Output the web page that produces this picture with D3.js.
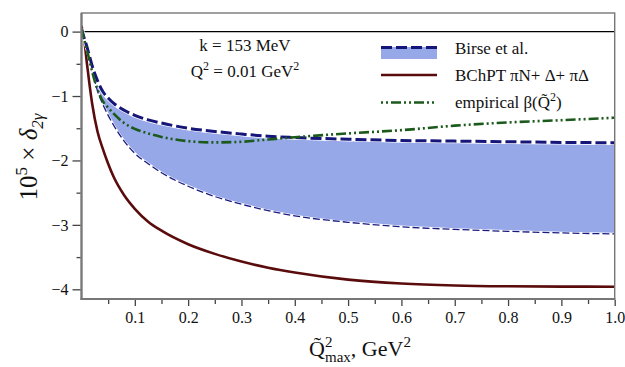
<!DOCTYPE html>
<html><head><meta charset="utf-8">
<script src="https://cdn.jsdelivr.net/npm/d3@7"></script>
<style>
body{margin:0;background:#fff;}
svg text{font-family:"Liberation Serif","Times New Roman",Times,serif !important;}
</style></head><body>
<svg id="c" width="625" height="367"></svg>
<script>
// ---- data ----
const qmax   = [0, 0.005, 0.01, 0.015, 0.02, 0.03, 0.04, 0.05, 0.06, 0.08, 0.1, 0.125, 0.15, 0.2, 0.25, 0.3, 0.35, 0.4, 0.5, 0.6, 0.7, 0.8, 0.9, 1.0];
const birseUpper = [0.05, -0.1, -0.23, -0.38, -0.53, -0.76, -0.93, -1.03, -1.11, -1.22, -1.30, -1.37, -1.42, -1.50, -1.55, -1.59, -1.625, -1.645, -1.67, -1.69, -1.70, -1.71, -1.72, -1.725];
const birseLower = [0.05, -0.15, -0.30, -0.45, -0.60, -0.92, -1.13, -1.30, -1.45, -1.70, -1.89, -2.05, -2.19, -2.40, -2.56, -2.68, -2.78, -2.86, -2.96, -3.03, -3.07, -3.10, -3.125, -3.14];
const bchpt      = [0.09, -0.12, -0.48, -0.82, -1.12, -1.55, -1.82, -2.05, -2.25, -2.54, -2.75, -2.95, -3.09, -3.30, -3.45, -3.57, -3.665, -3.74, -3.85, -3.91, -3.94, -3.953, -3.958, -3.96];
const empirical  = [0.05, -0.12, -0.28, -0.45, -0.62, -0.90, -1.08, -1.18, -1.27, -1.42, -1.51, -1.58, -1.635, -1.70, -1.72, -1.71, -1.675, -1.64, -1.58, -1.53, -1.46, -1.41, -1.375, -1.337];
const xMajor = [0.1,0.2,0.3,0.4,0.5,0.6,0.7,0.8,0.9,1.0];
const xMinor = [0.05,0.15,0.25,0.35,0.45,0.55,0.65,0.75,0.85,0.95];
const yMajor = [0,-1,-2,-3,-4];
const yMinor = [-0.5,-1.5,-2.5,-3.5];
const legendLabels = ["Birse et al.", "BChPT \u03c0N+ \u0394+ \u03c0\u0394", "empirical"];

// ---- layout ----
const svg = d3.select("#c");
const L=81.5, R=614.7, T=13, B=299;
const x = d3.scaleLinear().domain([0,1]).range([L,R]);
const y = d3.scaleLinear().domain([-4,0]).range([289.3,31.6]);

const pts = arr => qmax.map((q,i)=>[q,arr[i]]);
const line = d3.line().x(d=>x(d[0])).y(d=>y(d[1])).curve(d3.curveMonotoneX);
const area = d3.area().x((d,i)=>x(qmax[i])).y0((d,i)=>y(birseLower[i])).y1((d,i)=>y(birseUpper[i])).curve(d3.curveMonotoneX);

svg.append("defs").append("clipPath").attr("id","clip").append("rect")
  .attr("x",L).attr("y",T).attr("width",R-L).attr("height",B-T);
const g = svg.append("g").attr("clip-path","url(#clip)");

// zero line
g.append("line").attr("x1",L).attr("x2",R).attr("y1",y(0)).attr("y2",y(0)).attr("stroke","#000").attr("stroke-width",1.2);

g.append("path").datum(qmax).attr("d",area).attr("fill","#96a8e8");
// lower dashed
g.append("path").attr("d",line(pts(birseLower))).attr("fill","none").attr("stroke","#fff").attr("stroke-width",2.4);
g.append("path").attr("d",line(pts(birseLower))).attr("fill","none").attr("stroke","#1a1a80").attr("stroke-width",1.3).attr("stroke-dasharray","7,3");
// BChPT
g.append("path").attr("d",line(pts(bchpt))).attr("fill","none").attr("stroke","#5a0c0c").attr("stroke-width",2.6);
// upper dashed
g.append("path").attr("d",line(pts(birseUpper))).attr("fill","none").attr("stroke","#fff").attr("stroke-width",4.4);
g.append("path").attr("d",line(pts(birseUpper))).attr("fill","none").attr("stroke","#15157a").attr("stroke-width",3).attr("stroke-dasharray","11,4");
// empirical
g.append("path").attr("d",line(pts(empirical))).attr("fill","none").attr("stroke","#1b5a1b").attr("stroke-width",2.6).attr("stroke-dasharray","10,3,2,3,2,3");

// frame
svg.append("rect").attr("x",L).attr("y",T).attr("width",R-L).attr("height",B-T).attr("fill","none").attr("stroke","#777").attr("stroke-width",1.4);
svg.append("line").attr("x1",L).attr("x2",L).attr("y1",T).attr("y2",B+1).attr("stroke","#777").attr("stroke-width",2.2);
svg.append("line").attr("x1",L-1).attr("x2",R+0.7).attr("y1",B).attr("y2",B).attr("stroke","#777").attr("stroke-width",2.2);

// axes
function styleAxis(sel){
  sel.attr("font-family",null);
  sel.select(".domain").remove();
  sel.selectAll(".tick line").attr("stroke","#444").attr("stroke-width",1.3);
  sel.selectAll(".tick text").attr("font-size",16).attr("fill","#111");
}
const fmtY = d => d===0 ? "0" : "\u2212"+Math.abs(d);
svg.append("g").attr("transform",`translate(${L-1},0)`)
  .call(d3.axisLeft(y).tickValues(yMajor).tickSize(8).tickPadding(4).tickFormat(fmtY)).call(styleAxis);
svg.append("g").attr("transform",`translate(${L-1},0)`)
  .call(d3.axisLeft(y).tickValues(yMinor).tickSize(4).tickFormat("")).call(styleAxis);
svg.append("g").attr("transform",`translate(0,${B+1})`)
  .call(d3.axisBottom(x).tickValues(xMajor).tickSize(6).tickPadding(6).tickFormat(d3.format(".1f"))).call(styleAxis);
svg.append("g").attr("transform",`translate(0,${B+1})`)
  .call(d3.axisBottom(x).tickValues(xMinor).tickSize(4).tickFormat("")).call(styleAxis);

// axis titles
const xt = svg.append("text").attr("x",360).attr("y",356).attr("text-anchor","middle").attr("font-size",22).attr("fill","#111");
xt.append("tspan").text("Q\u0303");
xt.append("tspan").attr("font-size",15).attr("dy",-9).attr("dx",0).text("2");
xt.append("tspan").attr("font-size",15).attr("dx",-7.5).attr("dy",15).text("max");
xt.append("tspan").attr("dy",-6).text(", GeV");
xt.append("tspan").attr("font-size",15).attr("dy",-9).text("2");

const yt = svg.append("text").attr("transform","translate(37,157) rotate(-90)").attr("text-anchor","middle").attr("font-size",25).attr("fill","#111");
yt.append("tspan").text("10");
yt.append("tspan").attr("font-size",17).attr("dy",-10).text("5");
yt.append("tspan").attr("dy",10).text(" \u00d7 ");
yt.append("tspan").attr("font-style","italic").text("\u03b4");
yt.append("tspan").attr("font-size",17).attr("dy",6).attr("font-style","italic").text("2\u03b3");

// annotation
svg.append("text").attr("x",245).attr("y",51).attr("text-anchor","middle").attr("font-size",17).attr("fill","#111").text("k = 153 MeV");
const a2 = svg.append("text").attr("x",245).attr("y",77).attr("text-anchor","middle").attr("font-size",17).attr("fill","#111");
a2.append("tspan").text("Q");
a2.append("tspan").attr("font-size",12).attr("dy",-7).text("2");
a2.append("tspan").attr("dy",7).text(" = 0.01 GeV");
a2.append("tspan").attr("font-size",12).attr("dy",-7).text("2");

// legend
const lx0=381, lx1=437, tx=455;
svg.append("rect").attr("x",lx0).attr("y",47).attr("width",lx1-lx0).attr("height",12).attr("fill","#96a8e8");
svg.append("line").attr("x1",lx0).attr("x2",lx1).attr("y1",47.5).attr("y2",47.5).attr("stroke","#15157a").attr("stroke-width",3).attr("stroke-dasharray","11,4");
svg.append("line").attr("x1",lx0).attr("x2",lx1).attr("y1",75).attr("y2",75).attr("stroke","#5a0c0c").attr("stroke-width",2.6);
svg.append("line").attr("x1",lx0).attr("x2",lx1).attr("y1",102.5).attr("y2",102.5).attr("stroke","#1b5a1b").attr("stroke-width",2.6).attr("stroke-dasharray","2,3,2,3,10,3");
svg.append("text").attr("x",tx).attr("y",54).attr("font-size",17).attr("fill","#111").text(legendLabels[0]);
svg.append("text").attr("x",tx).attr("y",81).attr("font-size",17).attr("fill","#111").text(legendLabels[1]);
const l3 = svg.append("text").attr("x",tx).attr("y",108).attr("font-size",17).attr("fill","#111");
l3.append("tspan").text(legendLabels[2]+" \u03b2(Q\u0303");
l3.append("tspan").attr("font-size",12).attr("dy",-7).text("2");
l3.append("tspan").attr("dy",7).text(")");
</script>
</body></html>
